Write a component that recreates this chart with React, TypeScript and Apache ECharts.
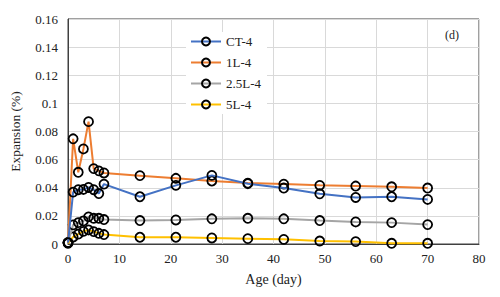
import React, { useEffect, useRef } from "react";
import * as echarts from "echarts";

// Age of the specimens in days
const ages = [0, 1, 2, 3, 4, 5, 6, 7, 14, 21, 28, 35, 42, 49, 56, 63, 70];

// Expansion (%) for each mix
const ct4 = [0.001, 0.0369, 0.0386, 0.0388, 0.0402, 0.0386, 0.0359, 0.0426, 0.0336, 0.0417, 0.0488, 0.0429, 0.0398, 0.0357, 0.0331, 0.0336, 0.0317];
const l1 = [0.001, 0.0748, 0.051, 0.0676, 0.087, 0.0536, 0.052, 0.0505, 0.0486, 0.0467, 0.0448, 0.0433, 0.0426, 0.0417, 0.0412, 0.0407, 0.0398];
const l25 = [0.001, 0.0136, 0.0152, 0.0164, 0.0193, 0.0183, 0.0183, 0.0174, 0.0167, 0.0171, 0.0179, 0.0183, 0.0179, 0.0167, 0.0157, 0.0152, 0.0138];
const l5 = [0.0005, 0.005, 0.0071, 0.009, 0.01, 0.0088, 0.0076, 0.0067, 0.0048, 0.0048, 0.0043, 0.0038, 0.0033, 0.0021, 0.0017, 0.0005, 0.0005];

const seriesNames = ["CT-4", "1L-4", "2.5L-4", "5L-4"];
const seriesColors = ["#4472C4", "#ED7D31", "#A5A5A5", "#FFC000"];
const seriesValues = [ct4, l1, l25, l5];

const FONT = "'Liberation Serif', 'Times New Roman', serif";

export default function App() {
  const ref = useRef<HTMLDivElement>(null);

  useEffect(() => {
    if (!ref.current) return;
    const chart = echarts.init(ref.current, null, { renderer: "svg" });
    chart.setOption({
      animation: false,
      backgroundColor: "#ffffff",
      textStyle: { fontFamily: FONT },
      grid: {
        left: 66,
        right: 21,
        top: 19,
        bottom: 53,
        show: true,
        borderColor: "#404040",
        borderWidth: 1,
      },
      legend: {
        orient: "vertical",
        left: 186,
        top: 32,
        itemWidth: 30,
        itemHeight: 10,
        itemGap: 8,
        padding: [3, 6, 3, 4],
        backgroundColor: "#ffffff",
        data: seriesNames,
        textStyle: { fontFamily: FONT, fontSize: 13, color: "#222" },
      },
      graphic: [
        {
          type: "text",
          left: 445,
          top: 29,
          style: { text: "(d)", font: `12px ${FONT}`, fill: "#222" },
        },
      ],
      xAxis: {
        type: "value",
        min: 0,
        max: 80,
        interval: 10,
        name: "Age (day)",
        nameLocation: "middle",
        nameGap: 28,
        nameTextStyle: { fontFamily: FONT, fontSize: 14, color: "#222" },
        axisLine: { show: true, lineStyle: { color: "#404040", width: 1 } },
        axisTick: { show: false },
        axisLabel: { fontFamily: FONT, fontSize: 13, color: "#222", margin: 8 },
        splitLine: { show: true, lineStyle: { color: "#d9d9d9", width: 1 } },
      },
      yAxis: {
        type: "value",
        min: 0,
        max: 0.16,
        interval: 0.02,
        name: "Expansion (%)",
        nameLocation: "middle",
        nameGap: 46,
        nameTextStyle: { fontFamily: FONT, fontSize: 13.5, color: "#222" },
        axisLine: { show: true, lineStyle: { color: "#404040", width: 1 } },
        axisTick: { show: false },
        axisLabel: {
          fontFamily: FONT,
          fontSize: 13,
          color: "#222",
          margin: 10,
          formatter: (v: number) => String(Math.round(v * 100) / 100),
        },
        splitLine: { show: true, lineStyle: { color: "#d9d9d9", width: 1 } },
      },
      series: seriesNames.map((name, i) => ({
        name,
        type: "line",
        data: ages.map((a, j) => [a, seriesValues[i][j]]),
        symbol: "circle",
        symbolSize: 9,
        showSymbol: true,
        lineStyle: { color: seriesColors[i], width: 2 },
        itemStyle: {
          color: "rgba(255,255,255,0)",
          borderColor: "#000000",
          borderWidth: 1.8,
        },
        color: seriesColors[i],
        z: 10 - i,
      })),
    });
    return () => chart.dispose();
  }, []);

  return <div ref={ref} style={{ width: 500, height: 297, margin: -8 }} />;
}
